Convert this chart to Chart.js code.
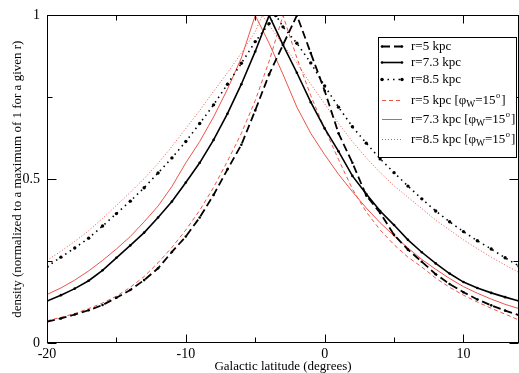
<!DOCTYPE html>
<html>
<head>
<meta charset="utf-8">
<title>density vs galactic latitude</title>
<style>
html, body { margin: 0; padding: 0; overflow: hidden; background: #fff; }
#density-chart { display: block; }
</style>
</head>
<body>
<canvas id="density-chart" width="523" height="373"></canvas>
<script src="https://cdn.jsdelivr.net/npm/chart.js"></script>
<script>
// latitude grid (degrees), one value per degree
const latitude = [-20, -19, -18, -17, -16, -15, -14, -13, -12, -11, -10, -9, -8, -7, -6, -5, -4, -3, -2, -1,
                  0, 1, 2, 3, 4, 5, 6, 7, 8, 9, 10, 11, 12, 13, 14];

// normalized density, no warp
const densityR5 = [0.065, 0.075, 0.087, 0.100, 0.116, 0.138, 0.162, 0.192, 0.228, 0.278, 0.325, 0.383, 0.452, 0.530, 0.605, 0.710, 0.820, 0.910, 1.000, 0.885,
                   0.770, 0.640, 0.550, 0.450, 0.397, 0.330, 0.285, 0.248, 0.210, 0.180, 0.155, 0.133, 0.115, 0.099, 0.085];
const densityR73 = [0.128, 0.146, 0.166, 0.190, 0.222, 0.260, 0.298, 0.337, 0.383, 0.432, 0.490, 0.550, 0.620, 0.700, 0.790, 0.890, 1.000, 0.910, 0.825, 0.735,
                    0.655, 0.585, 0.510, 0.455, 0.403, 0.360, 0.315, 0.277, 0.243, 0.212, 0.186, 0.168, 0.153, 0.140, 0.128];
const densityR85 = [0.233, 0.262, 0.290, 0.320, 0.357, 0.395, 0.433, 0.474, 0.519, 0.565, 0.615, 0.670, 0.727, 0.790, 0.854, 0.920, 0.975, 0.965, 0.915, 0.855,
                    0.785, 0.720, 0.660, 0.610, 0.562, 0.520, 0.479, 0.440, 0.403, 0.370, 0.340, 0.312, 0.287, 0.260, 0.235];

// normalized density, warp phi_W = 15 deg
const densityR5Warp = [0.068, 0.078, 0.090, 0.105, 0.122, 0.143, 0.170, 0.203, 0.245, 0.292, 0.345, 0.405, 0.475, 0.555, 0.640, 0.740, 0.860, 1.000, 0.870, 0.755,
                       0.655, 0.560, 0.470, 0.400, 0.345, 0.300, 0.262, 0.232, 0.198, 0.170, 0.146, 0.125, 0.106, 0.088, 0.070];
const densityR73Warp = [0.148, 0.168, 0.192, 0.220, 0.252, 0.287, 0.325, 0.370, 0.418, 0.478, 0.550, 0.615, 0.690, 0.775, 0.870, 1.000, 0.915, 0.820, 0.720, 0.640,
                        0.575, 0.515, 0.462, 0.412, 0.367, 0.327, 0.290, 0.255, 0.225, 0.197, 0.172, 0.152, 0.134, 0.118, 0.105];
const densityR85Warp = [0.252, 0.280, 0.310, 0.343, 0.380, 0.420, 0.460, 0.502, 0.548, 0.600, 0.655, 0.710, 0.768, 0.825, 0.885, 0.950, 0.970, 0.910, 0.855, 0.790,
                        0.730, 0.670, 0.615, 0.565, 0.520, 0.480, 0.445, 0.410, 0.375, 0.345, 0.315, 0.288, 0.262, 0.238, 0.215];

// where each curve reaches its maximum of 1
const peakLatitude = [-2, -4, -3.5, -3, -5, -4.5];

const legendLabels = ["r=5 kpc", "r=7.3 kpc", "r=8.5 kpc", "r=5 kpc", "r=7.3 kpc", "r=8.5 kpc"];

const xTicks = [-20, -10, 0, 10];
const xMinorTicks = [-15, -5, 5];
const yTicks = [0, 0.5, 1];
const yMinorTicks = [0.25, 0.75];

const SERIF = "'Liberation Serif', 'DejaVu Serif', serif";
const RED = "rgb(236,84,72)";

// merge the per-degree values with the peak point
function toPoints(values, peak) {
    var pts = [];
    for (var i = 0; i < latitude.length; i++) {
        pts.push({x: latitude[i], y: values[i]});
    }
    if (latitude.indexOf(peak) < 0) {
        pts.push({x: peak, y: 1});
        pts.sort(function (a, b) { return a.x - b.x; });
    }
    return pts;
}

function blackSet(i, values, dash, width, radius) {
    return {
        label: legendLabels[i],
        data: toPoints(values, peakLatitude[i]),
        borderColor: "#000",
        borderWidth: width,
        borderDash: dash,
        pointRadius: radius,
        pointBackgroundColor: "#000",
        pointBorderWidth: 0,
        warp: false
    };
}

function redSet(i, values, dash) {
    return {
        label: legendLabels[i],
        data: toPoints(values, peakLatitude[i]),
        borderColor: RED,
        borderWidth: 1,
        borderDash: dash,
        pointRadius: 0,
        warp: true
    };
}

const datasets = [
    blackSet(0, densityR5, [8, 4], 1.8, 1.3),
    blackSet(1, densityR73, [], 1.6, 1.3),
    blackSet(2, densityR85, [1.5, 4], 1.6, 1.7),
    redSet(3, densityR5Warp, [4, 3]),
    redSet(4, densityR73Warp, []),
    redSet(5, densityR85Warp, [1, 2])
];

// box around the plot with inward ticks on every side
const frameTicks = {
    id: "frameTicks",
    afterDatasetsDraw(chart) {
        const ctx = chart.ctx;
        const a = chart.chartArea;
        const xs = chart.scales.x, ys = chart.scales.y;
        const L = Math.round(a.left) + 0.5, R = Math.round(a.right) - 0.5;
        const T = Math.round(a.top) + 0.5, B = Math.round(a.bottom) - 0.5;
        ctx.save();
        ctx.strokeStyle = "#000";
        ctx.lineWidth = 1;
        ctx.strokeRect(L, T, R - L, B - T);
        ctx.beginPath();
        function xMark(v, len) {
            const px = Math.round(xs.getPixelForValue(v)) + 0.5;
            ctx.moveTo(px, B); ctx.lineTo(px, B - len);
            ctx.moveTo(px, T); ctx.lineTo(px, T + len);
        }
        function yMark(v, len) {
            const py = Math.round(ys.getPixelForValue(v)) + 0.5;
            ctx.moveTo(L, py); ctx.lineTo(L + len, py);
            ctx.moveTo(R, py); ctx.lineTo(R - len, py);
        }
        xTicks.forEach(function (v) { xMark(v, 8); });
        xMinorTicks.forEach(function (v) { xMark(v, 5); });
        yTicks.forEach(function (v) { yMark(v, 9); });
        yMinorTicks.forEach(function (v) { yMark(v, 5); });
        ctx.stroke();
        ctx.restore();
    }
};

// legend box drawn over the curves, with sub/superscripts in the warp entries
const boxLegend = {
    id: "boxLegend",
    afterDatasetsDraw(chart) {
        const ctx = chart.ctx;
        const box = {left: 378, top: 37, right: 517, bottom: 158};
        const rows = [46, 62, 79, 100, 119, 139];
        ctx.save();
        ctx.fillStyle = "#fff";
        ctx.fillRect(box.left, box.top, box.right - box.left, box.bottom - box.top);
        ctx.strokeStyle = "#000";
        ctx.lineWidth = 1;
        ctx.strokeRect(box.left + 0.5, box.top + 0.5, box.right - box.left - 1, box.bottom - box.top - 1);

        chart.data.datasets.forEach(function (ds, i) {
            const y = rows[i] + 0.5;
            ctx.save();
            ctx.strokeStyle = ds.borderColor;
            ctx.lineWidth = ds.borderWidth;
            ctx.setLineDash(ds.borderDash);
            ctx.beginPath();
            ctx.moveTo(382, y);
            ctx.lineTo(402, y);
            ctx.stroke();
            if (ds.pointRadius > 0) {
                ctx.fillStyle = ds.borderColor;
                [382, 402].forEach(function (px) {
                    ctx.beginPath();
                    ctx.arc(px, y, ds.pointRadius, 0, Math.PI * 2);
                    ctx.fill();
                });
            }
            ctx.restore();

            ctx.fillStyle = "#000";
            ctx.textBaseline = "middle";
            ctx.textAlign = "left";
            var x = 411;
            var text = ds.label + (ds.warp ? " [\u03c6" : "");
            ctx.font = "13px " + SERIF;
            ctx.fillText(text, x, y);
            if (ds.warp) {
                x += ctx.measureText(text).width;
                ctx.font = "9.5px " + SERIF;
                ctx.fillText("W", x, y + 4);
                x += ctx.measureText("W").width;
                ctx.font = "13px " + SERIF;
                ctx.fillText("=15", x, y);
                x += ctx.measureText("=15").width;
                ctx.font = "8.5px " + SERIF;
                ctx.fillText("o", x + 0.5, y - 5);
                x += ctx.measureText("o").width + 1.5;
                ctx.font = "13px " + SERIF;
                ctx.fillText("]", x, y);
            }
        });
        ctx.restore();
    }
};

const tickFont = {family: SERIF, size: 14};
const titleFont = {family: SERIF, size: 13};

const config = {
    type: "line",
    data: {datasets: datasets},
    options: {
        responsive: false,
        animation: false,
        events: [],
        layout: {padding: {top: 13, right: 2, left: 0, bottom: 0}},
        plugins: {legend: {display: false}, tooltip: {enabled: false}},
        elements: {line: {tension: 0, borderCapStyle: "butt"}},
        scales: {
            x: {
                type: "linear",
                min: -20,
                max: 14,
                grid: {display: false, drawTicks: false},
                border: {display: false},
                afterBuildTicks: function (s) { s.ticks = xTicks.map(function (v) { return {value: v}; }); },
                afterFit: function (s) { s.height = 30; },
                ticks: {font: tickFont, color: "#000", padding: 3, maxRotation: 0,
                        callback: function (v) { return String(v); }},
                title: {display: true, text: "Galactic latitude (degrees)", font: titleFont, color: "#000",
                        padding: {top: 0, bottom: -1}}
            },
            y: {
                type: "linear",
                min: 0,
                max: 1,
                grid: {display: false, drawTicks: false},
                border: {display: false},
                afterBuildTicks: function (s) { s.ticks = yTicks.map(function (v) { return {value: v}; }); },
                afterFit: function (s) { s.width = 47; },
                ticks: {font: tickFont, color: "#000", padding: 7,
                        callback: function (v) { return String(v); }},
                title: {display: true, text: "density (normalized to a maximum of 1 for a given r)", font: titleFont,
                        color: "#000", padding: {top: 10, bottom: 0}}
            }
        }
    },
    plugins: [frameTicks, boxLegend]
};

const densityChart = new Chart(document.getElementById("density-chart"), config);
</script>
</body>
</html>
